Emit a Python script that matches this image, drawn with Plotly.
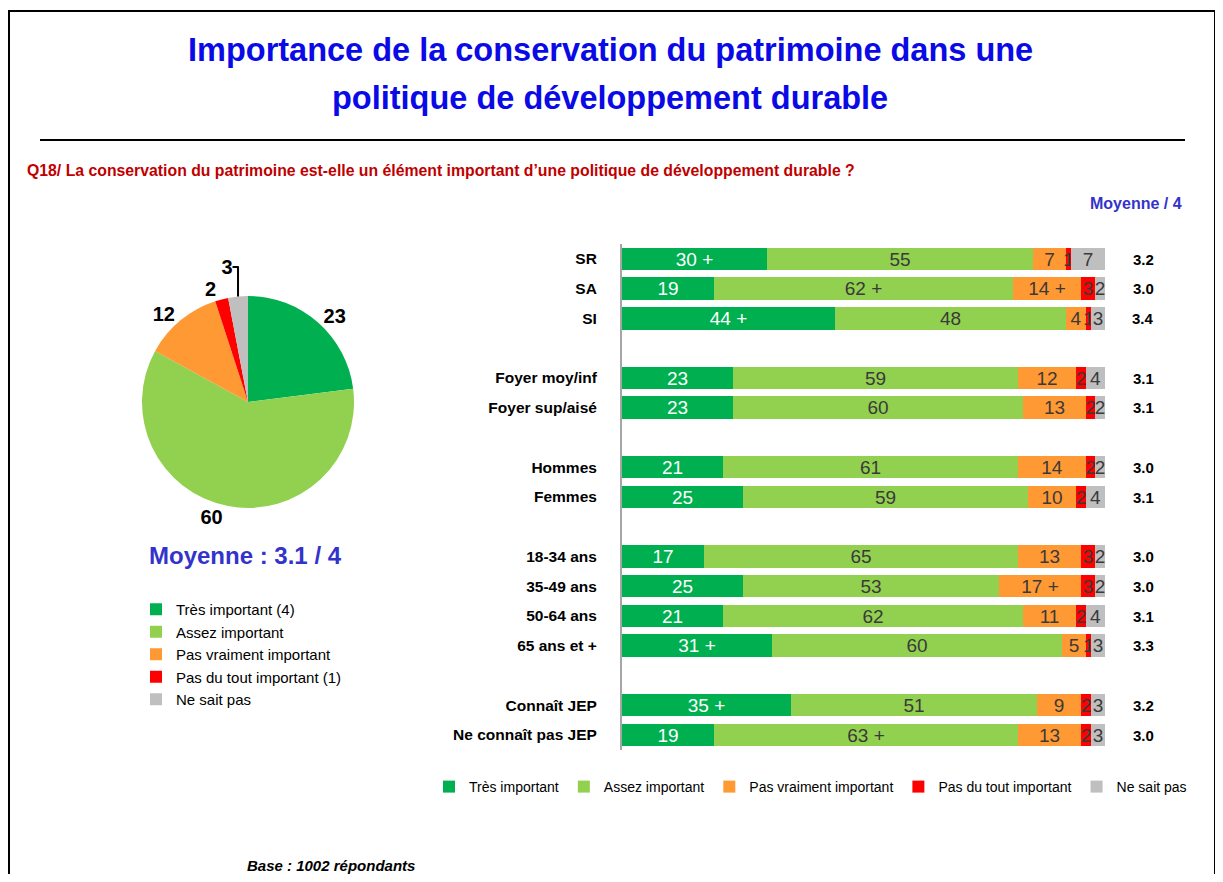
import plotly.graph_objects as go

# Chart data
categories = ["SR", "SA", "SI", "Foyer moy/inf", "Foyer sup/aisé", "Hommes", "Femmes",
              "18-34 ans", "35-49 ans", "50-64 ans", "65 ans et +", "Connaît JEP", "Ne connaît pas JEP"]
group_sizes = [3, 2, 2, 4, 2]

tres = [30, 19, 44, 23, 23, 21, 25, 17, 25, 21, 31, 35, 19]
assez = [55, 62, 48, 59, 60, 61, 59, 65, 53, 62, 60, 51, 63]
pas_vraiment = [7, 14, 4, 12, 13, 14, 10, 13, 17, 11, 5, 9, 13]
pas_du_tout = [1, 3, 1, 2, 2, 2, 2, 3, 3, 2, 1, 2, 2]
nsp = [7, 2, 3, 4, 2, 2, 4, 2, 2, 4, 3, 3, 3]

# significance marks ("+") shown next to some values
tres_plus = [1, 0, 1, 0, 0, 0, 0, 0, 0, 0, 1, 1, 0]
assez_plus = [0, 1, 0, 0, 0, 0, 0, 0, 0, 0, 0, 0, 1]
pas_vraiment_plus = [0, 1, 0, 0, 0, 0, 0, 0, 1, 0, 0, 0, 0]

moyennes = ["3.2", "3.0", "3.4", "3.1", "3.1", "3.0", "3.1", "3.0", "3.0", "3.1", "3.3", "3.2", "3.0"]

series_names = ["Très important", "Assez important", "Pas vraiment important",
                "Pas du tout important", "Ne sait pas"]
pie_names = ["Très important (4)", "Assez important", "Pas vraiment important",
             "Pas du tout important (1)", "Ne sait pas"]
pie_values = [23, 60, 12, 2, 3]

colors = ["#00B050", "#92D050", "#FF9933", "#FF0000", "#BFBFBF"]
text_colors = ["white", "#3A3A3A", "#3A3A3A", "#3A3A3A", "#3A3A3A"]

# page body has an 8px margin, so the figure sits at (8, 8) on screen
OFF = 8
W, H = 1207, 866


def px(x):
    return (x - OFF) / W


def py(y):
    return 1 - (y - OFF) / H


# row positions with one empty row between groups
rows = []
r = 0
for g in group_sizes:
    for _ in range(g):
        rows.append(r)
        r += 1
    r += 1
n_rows = rows[-1] + 1

narrow = "Liberation Sans Narrow, Arial Narrow, Liberation Sans, Arial"
bold_font = "Liberation Sans, Arial"

fig = go.Figure()

all_series = [tres, assez, pas_vraiment, pas_du_tout, nsp]
plus_marks = [tres_plus, assez_plus, pas_vraiment_plus, None, None]
for name, vals, col, tcol, plus in zip(series_names, all_series, colors, text_colors, plus_marks):
    if plus:
        txt = [f"{v} +" if p else str(v) for v, p in zip(vals, plus)]
    else:
        txt = [str(v) for v in vals]
    fig.add_trace(go.Bar(
        x=vals, y=rows, orientation="h", name=name,
        marker=dict(color=col, line=dict(width=0)),
        width=0.76,
        text=txt, textposition="inside", insidetextanchor="middle", textangle=0,
        textfont=dict(color=tcol, size=19, family=narrow),
        legend="legend",
        hoverinfo="x+name",
    ))

fig.add_trace(go.Pie(
    labels=pie_names, values=pie_values, sort=False, direction="clockwise",
    marker=dict(colors=colors, line=dict(width=0)),
    textinfo="value", textposition="outside",
    textfont=dict(size=20, color="black", family=bold_font, weight="bold"),
    domain=dict(x=[px(142), px(354)], y=[py(508), py(296)]),
    legend="legend2",
))

annotations = [
    dict(text="<b>Importance de la conservation du patrimoine dans une</b>", x=px(610), y=py(50),
         font=dict(size=32.5, color="#0A0AE6", family=bold_font)),
    dict(text="<b>politique de développement durable</b>", x=px(610), y=py(98),
         font=dict(size=32.5, color="#0A0AE6", family=bold_font)),
    dict(text="<b>Q18/ La conservation du patrimoine est-elle un élément important d’une politique de développement durable ?</b>",
         x=px(25), y=py(170), xanchor="left", font=dict(size=15.8, color="#C00000", family=bold_font)),
    dict(text="<b>Moyenne / 4</b>", x=px(1184), y=py(203), xanchor="right",
         font=dict(size=16, color="#3333CC", family=bold_font)),
    dict(text="<b>Moyenne : 3.1 / 4</b>", x=px(246), y=py(555),
         font=dict(size=24, color="#3333CC", family=bold_font)),
    dict(text="<b><i>Base : 1002 répondants</i></b>", x=px(245), y=py(865), xanchor="left",
         font=dict(size=15, color="black", family=bold_font)),
]
for a in annotations:
    a.update(xref="paper", yref="paper", showarrow=False, yanchor="middle")
    a.setdefault("xanchor", "center")

for yy, m in zip(rows, moyennes):
    annotations.append(dict(text=f"<b>{m}</b>", x=px(1143), y=yy, xref="paper", yref="y",
                            showarrow=False, xanchor="center",
                            font=dict(size=15, color="black", family=bold_font)))

shapes = [
    dict(type="line", xref="paper", yref="paper", x0=px(40), x1=px(1185), y0=py(140), y1=py(140),
         line=dict(color="black", width=2)),
    dict(type="rect", xref="paper", yref="paper", x0=px(9), x1=px(1215), y0=py(900), y1=py(11),
         line=dict(color="black", width=2)),
]

row_h = 29.75
top = 259 - row_h / 2
bottom = top + row_h * n_rows

fig.update_layout(
    width=W, height=H,
    margin=dict(l=0, r=0, t=0, b=0),
    paper_bgcolor="white", plot_bgcolor="white",
    barmode="stack", bargap=0,
    uniformtext=dict(minsize=18, mode="show"),
    annotations=annotations,
    shapes=shapes,
    xaxis=dict(domain=[px(622), px(1105)], range=[0, 100], visible=False, fixedrange=True),
    yaxis=dict(domain=[py(bottom), py(top)], range=[n_rows - 0.5, -0.5],
               tickmode="array", tickvals=rows, ticktext=[f"<b>{c}</b>" for c in categories],
               tickfont=dict(size=15.5, color="black", family=bold_font),
               showgrid=False, zeroline=False, showline=True, linecolor="#A6A6A6", linewidth=2,
               ticks="", ticklabelstandoff=20),
    legend=dict(orientation="h", x=px(1192), y=py(787), xanchor="right", yanchor="middle",
                font=dict(size=14, color="black", family=narrow), itemwidth=30,
                traceorder="normal", bgcolor="rgba(0,0,0,0)"),
    legend2=dict(orientation="v", x=px(136), y=py(593), xanchor="left", yanchor="top",
                 font=dict(size=15, color="black", family=narrow), itemwidth=30,
                 tracegroupgap=0, bgcolor="rgba(0,0,0,0)"),
)

fig.write_html("out.html")
